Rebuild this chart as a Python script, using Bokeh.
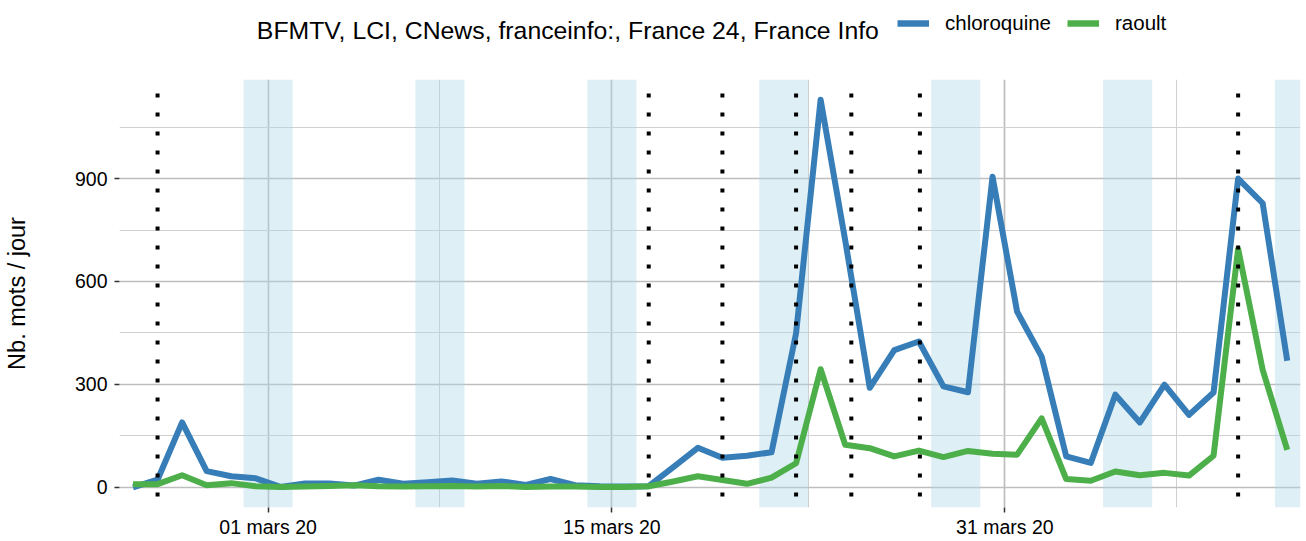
import pandas as pd
from bokeh.plotting import figure
from bokeh.models import (Range1d, FixedTicker, BoxAnnotation, Span, Legend,
                          LegendItem, Label, ColumnDataSource)
from bokeh.layouts import column
from bokeh.embed import file_html
from bokeh.resources import INLINE

# ---------------- data ----------------
dates = pd.date_range("2020-02-24 12:00", "2020-04-11 12:00", freq="D")

chloroquine = [0, 22, 189, 47, 32, 26, 1, 11, 11, 5, 22, 10, 15, 20, 10, 17, 7, 24,
               6, 3, 2, 3, 59, 115, 86, 92, 102, 449, 1130, 720, 290, 400, 425, 294,
               277, 905, 512, 381, 90, 71, 270, 189, 299, 211, 276, 900, 828, 369]
raoult = [9, 9, 35, 6, 12, 3, 1, 2, 4, 6, 3, 2, 3, 4, 2, 4, 1, 2,
          2, 1, 1, 3, 17, 32, 21, 10, 28, 70, 344, 124, 114, 90, 107, 88,
          106, 98, 95, 201, 24, 19, 46, 35, 42, 34, 92, 695, 342, 109]

series_names = ["chloroquine", "raoult"]
legend_title = "BFMTV, LCI, CNews, franceinfo:, France 24, France Info"

weekend_starts = ["2020-02-29", "2020-03-07", "2020-03-14", "2020-03-21",
                  "2020-03-28", "2020-04-04", "2020-04-11"]
event_times = ["2020-02-25 12:00", "2020-03-16 12:00", "2020-03-19 12:00",
               "2020-03-22 12:00", "2020-03-24 18:00", "2020-03-27 13:00",
               "2020-04-09 12:00"]

x_major = ["2020-03-01", "2020-03-15", "2020-03-31"]
x_major_labels = ["01 mars 20", "15 mars 20", "31 mars 20"]
x_minor = ["2020-03-08", "2020-03-23", "2020-04-07"]
y_major = [0, 300, 600, 900]
y_minor = [150, 450, 750, 1050]

# ---------------- styles ----------------
COLORS = ["#377EB8", "#4DAF4A"]
FONT = "Liberation Sans"
DAY = 86400000.0


def ms(s):
    return pd.Timestamp(s).value / 1e6


x_start = ms("2020-03-01") - 6.05 * DAY
x_end = ms("2020-03-01") + 42.04 * DAY

# ---------------- main figure ----------------
p = figure(width=1305, height=476, x_axis_type="datetime",
           x_range=Range1d(x_start, x_end), y_range=Range1d(-59.0, 1188.8),
           output_backend="svg", toolbar_location=None,
           min_border_left=118, min_border_right=5, min_border_top=15,
           min_border_bottom=32)
p.outline_line_color = None
p.background_fill_color = "white"
p.border_fill_color = "white"

major_ms = [ms(d) for d in x_major]
p.xaxis.ticker = FixedTicker(ticks=major_ms, minor_ticks=[ms(d) for d in x_minor])
p.xaxis.major_label_overrides = {m: lab for m, lab in zip(major_ms, x_major_labels)}
p.yaxis.ticker = FixedTicker(ticks=y_major, minor_ticks=y_minor)

for g in (p.xgrid[0], p.ygrid[0]):
    g.grid_line_color = "#BEBEBE"
    g.grid_line_width = 1.7
    g.minor_grid_line_color = "#D0D0D0"
    g.minor_grid_line_width = 1.0

for ax in (p.xaxis[0], p.yaxis[0]):
    ax.axis_line_color = None
    ax.major_tick_in = 0
    ax.major_tick_out = 5
    ax.minor_tick_line_color = None
    ax.major_tick_line_color = "#333333"
    ax.major_tick_line_width = 1.5
    ax.major_label_text_font = FONT
    ax.major_label_text_color = "#000000"
    ax.major_label_text_font_size = "19.5px"

p.xaxis.major_label_standoff = 3
p.yaxis.major_label_standoff = 7
p.yaxis.axis_label = "Nb. mots / jour"
p.yaxis.axis_label_text_font = FONT
p.yaxis.axis_label_text_font_size = "23.5px"
p.yaxis.axis_label_text_font_style = "normal"
p.yaxis.axis_label_text_color = "#000000"
p.yaxis.axis_label_standoff = 42

# weekend bands
for d in weekend_starts:
    left = ms(d)
    right = min(left + 2 * DAY, x_end)
    p.add_layout(BoxAnnotation(left=left, right=right, fill_color="#ADD8E6",
                               fill_alpha=0.4, line_color=None, level="underlay"))

src = ColumnDataSource(dict(date=dates, chloroquine=chloroquine, raoult=raoult))
for name, col in zip(series_names, COLORS):
    p.line("date", name, source=src, line_color=col, line_width=6,
           line_join="round")

for t in event_times:
    p.add_layout(Span(location=ms(t), dimension="height", line_color="black",
                      line_width=4, line_dash="4 15", line_dash_offset=5))

# ---------------- legend strip (frame aligned with the main frame) ----------------
lg = figure(width=1305, height=64, x_range=Range1d(118, 1300), y_range=Range1d(64, 0),
            output_backend="svg", toolbar_location=None,
            x_axis_location=None, y_axis_location=None,
            min_border_left=118, min_border_right=5, min_border_top=0, min_border_bottom=0)
lg.grid.visible = False
lg.outline_line_color = None
lg.background_fill_color = "white"
lg.border_fill_color = "white"

lg.add_layout(Label(x=878, y=30, text=legend_title, text_align="right",
                    text_baseline="alphabetic", text_font=FONT,
                    text_font_size="24.8px", text_color="#000000"))

nan = float("nan")
keys = [lg.line(x=[nan], y=[nan], line_color=c, line_width=6.5) for c in COLORS]
legend = Legend(items=[LegendItem(label=n, renderers=[r]) for n, r in zip(series_names, keys)],
                orientation="horizontal", location=(778, 29),
                glyph_width=32, glyph_height=20, label_standoff=16, spacing=16,
                padding=0, margin=0, border_line_color=None, background_fill_alpha=0,
                label_text_font=FONT, label_text_font_size="20.5px",
                label_text_color="#000000")
lg.add_layout(legend)

layout = column(lg, p)

open("out.html", "w").write(file_html(layout, INLINE))
